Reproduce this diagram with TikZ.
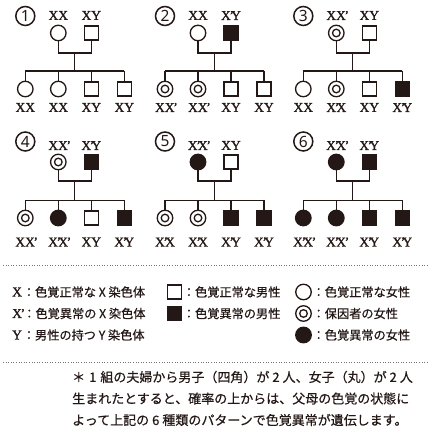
\documentclass[tikz,border=0pt]{standalone}
\usepackage{fontspec}
\setmainfont{Liberation Serif}
\newfontfamily\labfont{Liberation Serif}[FakeBold=1.2]
\newfontfamily\cjk{Noto Sans CJK JP}[FakeBold=0.5]
\newfontfamily\numfont{Noto Sans}
\definecolor{ink}{RGB}{35,24,21}
\newcommand\pr{\kern-1.2pt\makebox[1.6pt][l]{\raisebox{0.3pt}{\fontsize{13}{13}\selectfont ’}}}
\newcommand\rowone{\def\yN{16}\def\yPL{15.5}\def\yP{33}\def\yM{53}\def\yS{71}\def\yC{89}\def\yCL{107.5}}
\newcommand\rowtwo{\def\yN{141.5}\def\yPL{145.5}\def\yP{162}\def\yM{181}\def\yS{200.5}\def\yC{218}\def\yCL{242}}
\newcommand\family[8]{%
  \begin{scope}[name prefix=#1-]
    \node[numc] (num) at (#2,\yN) {#3};
    \node[#4] (m) at ({#2+33},\yP) {};
    \node[#6] (f) at ({#2+66},\yP) {};
    \node[lab] (ml) at ({#2+33},\yPL) {#5};
    \node[lab] (fl) at ({#2+66},\yPL) {#7};
    \coordinate (mm) at ({#2+33},\yM);
    \coordinate (fm) at ({#2+66},\yM);
    \coordinate (mid) at ({#2+49.5},\yM);
    \coordinate (sib) at ({#2+49.5},\yS);
    \draw[ped] (m) -- (mm) -- (fm) -- (f);
    \draw[ped] (mid) -- (sib);
    \foreach \s/\l [count=\i from 0] in {#8} {
      \node[\s] (c\i) at ({#2+33*\i},\yC) {};
      \node[lab] (cl\i) at ({#2+33*\i},\yCL) {\l};
      \coordinate (s\i) at ({#2+33*\i},\yS);
      \draw[ped] (s\i) -- (c\i);
    }
    \draw[ped] (s0) -- (s3);
  \end{scope}}
\newcommand\jsp{\XeTeXlinebreaklocale "ja"\XeTeXlinebreakskip=0pt plus 3pt\relax}
\begin{document}
\begin{tikzpicture}[x=1pt,y=-1pt,
  ped/.style={draw=ink, line width=1.3pt},
  shp/.style={draw=ink, line width=1.3pt, inner sep=0pt},
  fem/.style={shp, circle, minimum size=15.5pt, fill=white},
  car/.style={fem, path picture={\draw[ink, line width=1.3pt] (path picture bounding box.center) circle (3.8pt);}},
  aff/.style={fem, fill=ink},
  mal/.style={shp, rectangle, minimum size=14pt, fill=white},
  amal/.style={mal, fill=ink},
  lab/.style={inner sep=0pt, text=ink, font=\labfont\fontsize{13.5}{14}\selectfont},
  numc/.style={circle, draw=ink, line width=1.5pt, minimum size=19pt, inner sep=0pt, text=ink, font=\numfont\bfseries\fontsize{15.5}{15.5}\selectfont},
  jtxt/.style={inner sep=0.5pt, text=ink, font=\cjk\fontsize{12.2}{14}\selectfont, anchor=west},
  sepline/.style={draw=ink!60, line width=0.9pt, dash pattern=on 1pt off 1.6pt},
  note/.style={inner sep=0pt, text=ink, font=\cjk\fontsize{13}{15}\selectfont, anchor=west}]
\useasboundingbox (0,0) rectangle (430,427);
\rowone
\family{p1}{25.3}{1}{fem}{XX}{mal}{XY}{fem/XX,fem/XX,mal/XY,mal/XY}
\family{p2}{165}{2}{fem}{XX}{amal}{X\pr Y}{car/XX\pr,car/XX\pr,mal/XY,mal/XY}
\family{p3}{303.3}{3}{car}{XX\pr}{mal}{XY}{fem/XX,car/X\pr X,mal/XY,amal/X\pr Y}
\rowtwo
\family{p4}{25.3}{4}{car}{XX\pr}{amal}{X\pr Y}{car/XX\pr,aff/X\pr X\pr,mal/XY,amal/X\pr Y}
\family{p5}{165}{5}{aff}{X\pr X\pr}{mal}{XY}{car/X\pr X,car/X\pr X,amal/X\pr Y,amal/X\pr Y}
\family{p6}{303.3}{6}{aff}{X\pr X\pr}{amal}{X\pr Y}{aff/X\pr X\pr,aff/X\pr X\pr,amal/X\pr Y,amal/X\pr Y}
% separators
\draw[sepline] (3,265) -- (427,265);
\draw[sepline] (3,362) -- (427,362);
% legend left
\node[lab, anchor=west] (kx1) at (12,292) {X\hspace{0.5pt}};
\node[jtxt] (tx1) at (kx1.east) {：色覚正常な X 染色体};
\node[lab, anchor=west] (kx2) at (12,313.5) {X\pr\hspace{0.5pt}};
\node[jtxt] (tx2) at (kx2.east) {：色覚異常の X 染色体};
\node[lab, anchor=west] (kx3) at (12,335) {Y\hspace{0.5pt}};
\node[jtxt] (tx3) at (kx3.east) {：男性の持つ Y 染色体};
% legend middle
\node[mal] (ls1) at (174.5,292) {};
\node[jtxt] (ts1) at (ls1.east) {：色覚正常な男性};
\node[amal] (ls2) at (174.5,313.5) {};
\node[jtxt] (ts2) at (ls2.east) {：色覚異常の男性};
% legend right
\node[fem] (lc1) at (303.5,292) {};
\node[jtxt] (tc1) at (lc1.east) {：色覚正常な女性};
\node[car] (lc2) at (303.5,313.5) {};
\node[jtxt] (tc2) at (lc2.east) {：保因者の女性};
\node[aff] (lc3) at (303.5,335) {};
\node[jtxt] (tc3) at (lc3.east) {：色覚異常の女性};
% footnote
\node[note] (n1) at (72,377) {\jsp\makebox[350pt][s]{＊\kern4pt 1\kern4pt 組の夫婦から男子（四角）が\kern3pt 2\kern3pt 人、女子（丸）が\kern3pt 2\kern3pt 人}};
\node[note] (n2) at (72,398.5) {\jsp\makebox[350pt][s]{生まれたとすると、確率の上からは、父母の色覚の状態に}};
\node[note] (n3) at (72,420) {\jsp\makebox[346pt][s]{よって上記の\kern3pt 6\kern3pt 種類のパターンで色覚異常が遺伝します。}};
\end{tikzpicture}
\end{document}
